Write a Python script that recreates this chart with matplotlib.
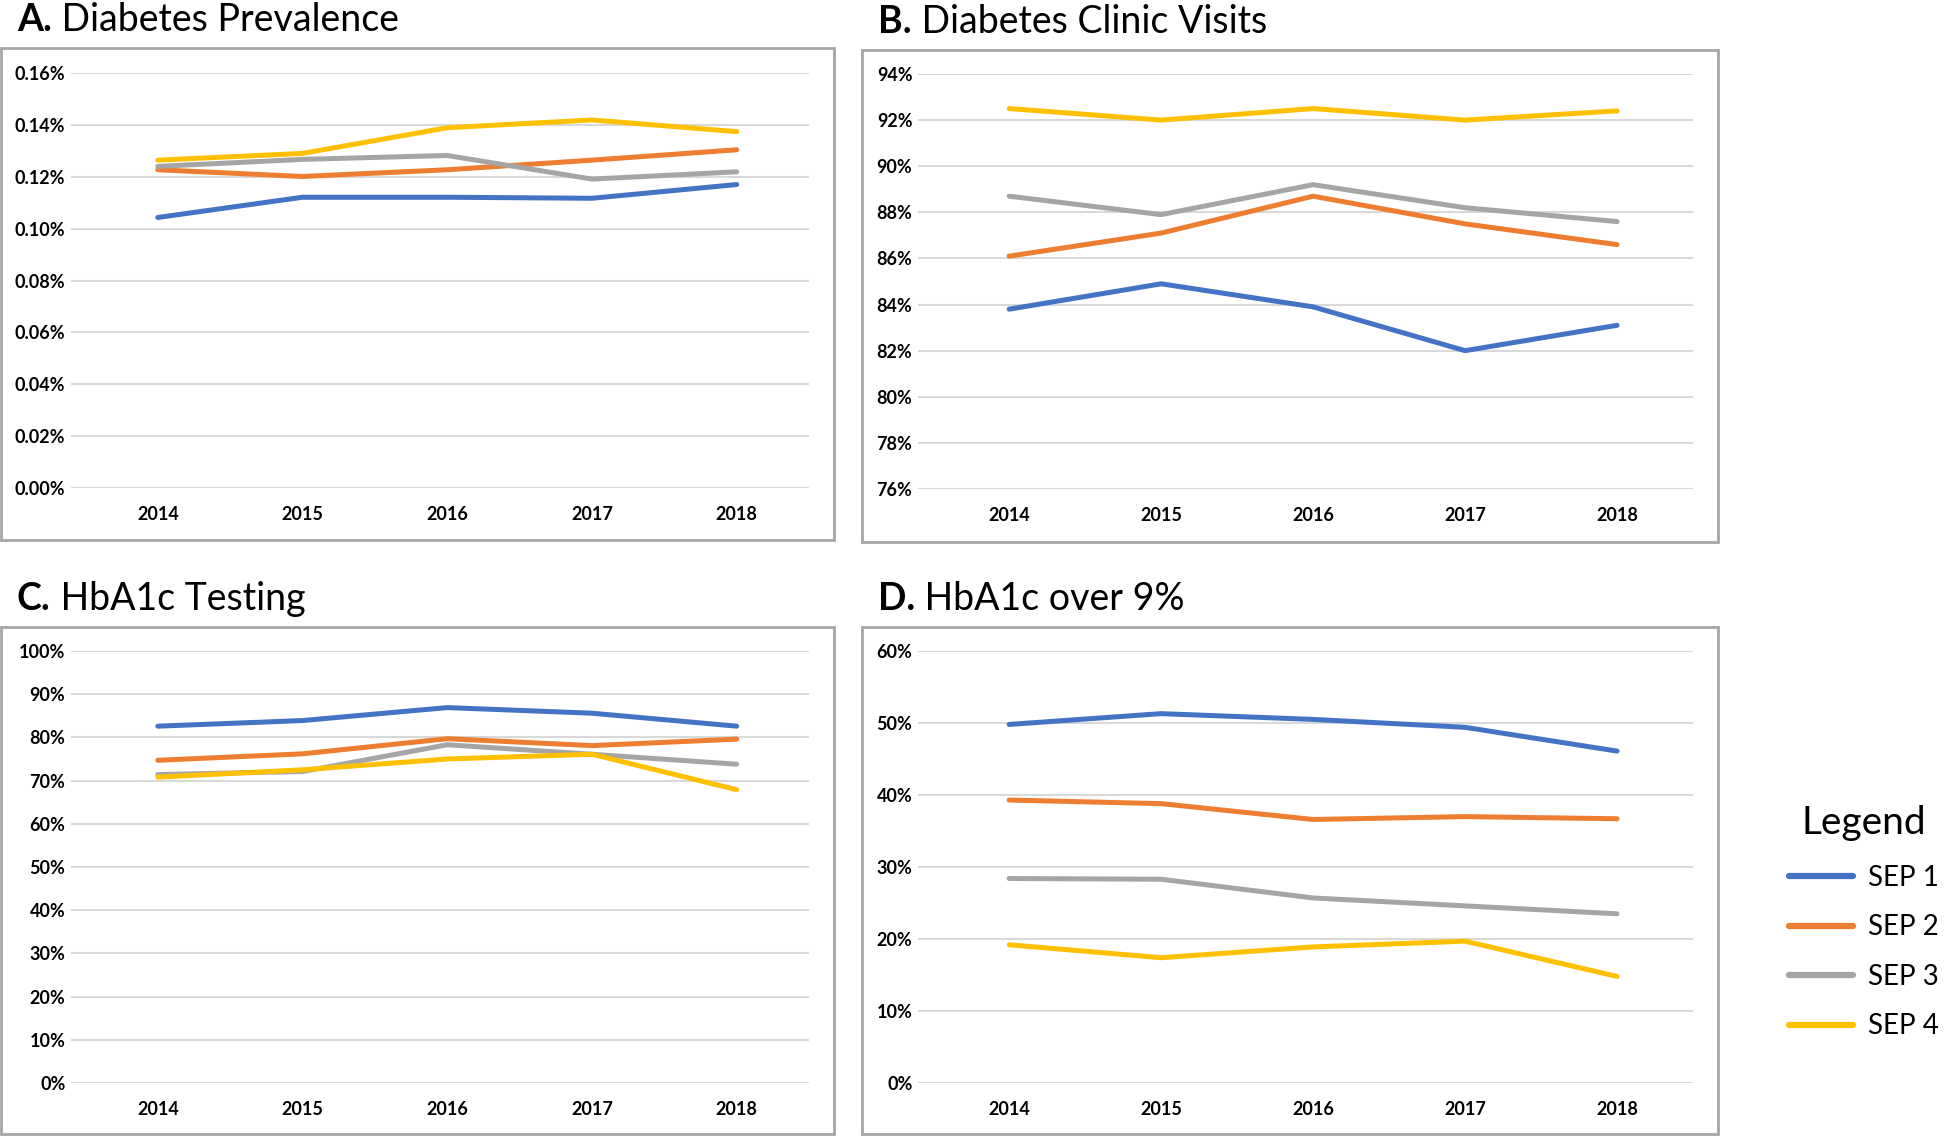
import matplotlib
matplotlib.use("Agg")
import matplotlib.pyplot as plt
from matplotlib.patches import Rectangle
from matplotlib.lines import Line2D
from matplotlib.ticker import FuncFormatter

plt.rcParams['font.family'] = ['Lato', 'DejaVu Sans']

years = ['2014', '2015', '2016', '2017', '2018']
series_names = ['SEP 1', 'SEP 2', 'SEP 3', 'SEP 4']
colors = ['#4472C4', '#ED7D31', '#A5A5A5', '#FFC000']

# A. Diabetes Prevalence (%)
prevalence = [
    [0.1043, 0.1121, 0.1121, 0.1117, 0.1170],
    [0.1227, 0.1201, 0.1227, 0.1264, 0.1304],
    [0.1240, 0.1267, 0.1282, 0.1191, 0.1219],
    [0.1264, 0.1290, 0.1389, 0.1419, 0.1374],
]
# B. Diabetes Clinic Visits (%)
clinic_visits = [
    [83.8, 84.9, 83.9, 82.0, 83.1],
    [86.1, 87.1, 88.7, 87.5, 86.6],
    [88.7, 87.9, 89.2, 88.2, 87.6],
    [92.5, 92.0, 92.5, 92.0, 92.4],
]
# C. HbA1c Testing (%)
hba1c_testing = [
    [82.6, 83.9, 86.9, 85.6, 82.6],
    [74.7, 76.2, 79.7, 78.1, 79.6],
    [71.4, 72.1, 78.3, 76.1, 73.8],
    [70.8, 72.5, 75.0, 76.1, 67.9],
]
# D. HbA1c over 9% (%)
hba1c_over9 = [
    [49.8, 51.3, 50.5, 49.4, 46.1],
    [39.3, 38.8, 36.6, 37.0, 36.7],
    [28.4, 28.3, 25.7, 24.6, 23.5],
    [19.2, 17.4, 18.9, 19.7, 14.8],
]

W, H = 1946, 1138
fig = plt.figure(figsize=(W / 100, H / 100), dpi=100)


def px_axes(x0, y0, x1, y1):
    return fig.add_axes([x0 / W, 1 - y1 / H, (x1 - x0) / W, (y1 - y0) / H])


def frame(x0, y0, x1, y1):
    fig.patches.append(Rectangle((x0 / W, 1 - y1 / H), (x1 - x0) / W, (y1 - y0) / H,
                                 transform=fig.transFigure, fill=False,
                                 edgecolor='#A6A6A6', linewidth=2))


def title(x, y, letter, rest):
    r = fig.canvas.get_renderer()
    t = fig.text(x / W, 1 - y / H, letter, fontsize=27, fontweight='bold', va='center')
    bb = t.get_window_extent(renderer=r)
    fig.text(bb.x1 / W, 1 - y / H, ' ' + rest, fontsize=27, va='center')


panels = [
    (prevalence, 'A.', 'Diabetes Prevalence', (1, 48, 834, 540), (71, 73, 809, 488),
     (0, 0.16, 0.02), lambda v, p: f'{v:.2f}%'),
    (clinic_visits, 'B.', 'Diabetes Clinic Visits', (862, 50, 1718, 542), (918, 74, 1693, 489),
     (76, 94, 2), lambda v, p: f'{v:.0f}%'),
    (hba1c_testing, 'C.', 'HbA1c Testing', (1, 627, 834, 1134), (71, 651, 809, 1083),
     (0, 100, 10), lambda v, p: f'{v:.0f}%'),
    (hba1c_over9, 'D.', 'HbA1c over 9%', (862, 627, 1718, 1134), (918, 651, 1693, 1083),
     (0, 60, 10), lambda v, p: f'{v:.0f}%'),
]

for data, letter, name, fr, ax_box, (lo, hi, step), fmt in panels:
    frame(*fr)
    title(fr[0] + 16, fr[1] - 28, letter, name)
    ax = px_axes(*ax_box)
    for vals, c, lab in zip(data, colors, series_names):
        ax.plot(range(len(years)), vals, color=c, linewidth=3.6,
                solid_capstyle='round', solid_joinstyle='round', label=lab)
    ax.set_xlim(-0.6, 4.5)
    ax.set_ylim(lo, hi)
    n = int(round((hi - lo) / step))
    ax.set_yticks([lo + i * step for i in range(n + 1)])
    ax.yaxis.set_major_formatter(FuncFormatter(fmt))
    ax.set_xticks(range(len(years)))
    ax.set_xticklabels(years)
    ax.grid(axis='y', color='#D9D9D9', linewidth=1.5)
    ax.set_axisbelow(True)
    for s in ax.spines.values():
        s.set_visible(False)
    ax.tick_params(length=0)
    ax.tick_params(axis='y', pad=4)
    ax.tick_params(axis='x', pad=13)
    for lbl in ax.get_xticklabels() + ax.get_yticklabels():
        lbl.set_fontsize(13)
        lbl.set_fontweight('bold')
    ax.patch.set_alpha(0)

handles = [Line2D([], [], color=c, linewidth=4.5, solid_capstyle='round') for c in colors]
leg = fig.legend(handles, series_names, title='Legend', loc='upper left',
                 bbox_to_anchor=(1764 / W, 1 - 780 / H), frameon=False,
                 fontsize=20, title_fontsize=28, handlelength=2.3,
                 handletextpad=0.55, labelspacing=0.85)

fig.savefig('out.png', dpi=100)
